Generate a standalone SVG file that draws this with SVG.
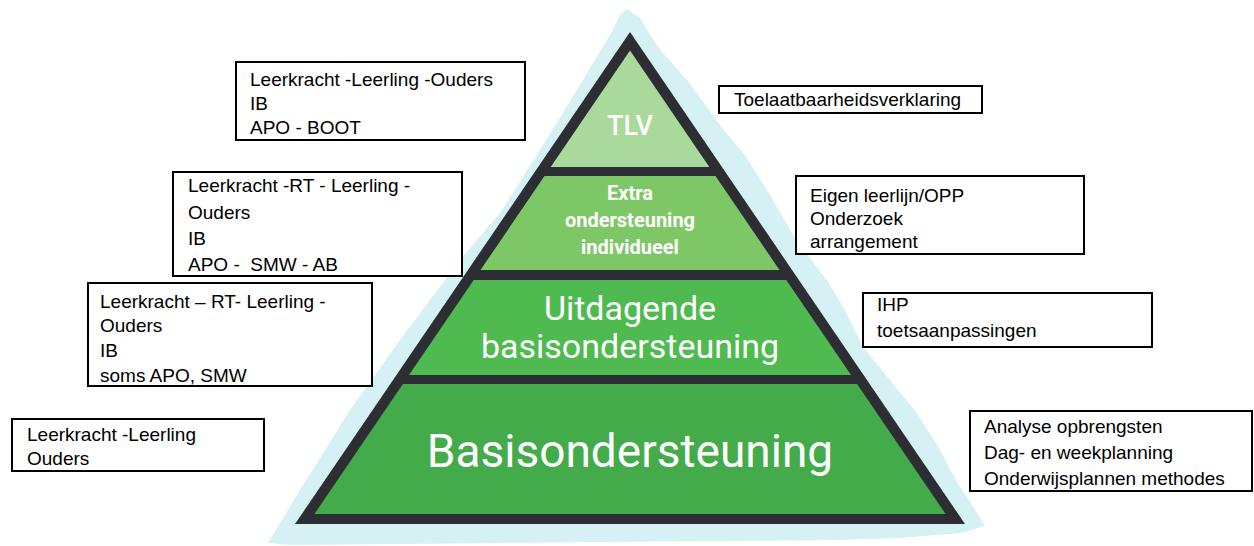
<svg xmlns="http://www.w3.org/2000/svg" width="1254" height="546" viewBox="0 0 1254 546">
<style>
.box rect{fill:#fff;stroke:#000;stroke-width:2}
.box text{font-family:"Liberation Sans",Arial,sans-serif;font-size:19px;fill:#000}
.lvl{fill:#fff;font-family:Roboto,"Liberation Sans",sans-serif;text-anchor:middle}
</style>
<rect width="1254" height="546" fill="#fff"/>
<g id="pyramid">
<polygon points="627,9 640,18 650,35 662,52 687,80 707,107 722,128 745,155 770,195 795,238 828,282 845,310 863,347 890,380 917,413 940,450 957,482 972,505 985,526 960,533 900,538 840,540 600,542 400,544 290,545 268,543 300,490 350,410 400,340 460,260 500,213 540,150 580,85 610,35 620,15" fill="#d5f1f4"/>
<polygon points="630,32 295,524 965,524" fill="#2c2e33"/>
<polygon id="tlv" points="630,50.5 550.7,167 709.3,167" fill="#a9d99b"/>
<polygon id="extra" points="544.5,176 715.5,176 779.5,270 480.5,270" fill="#7ec767"/>
<polygon id="uitdagende" points="473.7,280 786.3,280 851,375 409,375" fill="#4fba4f"/>
<polygon id="basis" points="402.9,384 857.1,384 945.6,514 314.4,514" fill="#43ab4a"/>
<text class="lvl" x="630" y="135" font-size="27" font-weight="500">TLV</text>
<text class="lvl" x="630" y="200" font-size="20" font-weight="bold">Extra</text>
<text class="lvl" x="630" y="227" font-size="20" font-weight="bold">ondersteuning</text>
<text class="lvl" x="630" y="254" font-size="20" font-weight="bold">individueel</text>
<text class="lvl" x="630" y="320" font-size="34">Uitdagende</text>
<text class="lvl" x="630" y="358" font-size="34">basisondersteuning</text>
<text class="lvl" x="630" y="467" font-size="46">Basisondersteuning</text>
</g>
<g id="box-tlv-left" class="box">
<rect x="236" y="62" width="289" height="78"/>
<text x="250" y="86">Leerkracht -Leerling -Ouders</text>
<text x="250" y="110">IB</text>
<text x="250" y="134">APO - BOOT</text>
</g>
<g id="box-extra-left" class="box">
<rect x="173" y="172" width="289" height="104"/>
<text x="188" y="192">Leerkracht -RT - Leerling -</text>
<text x="188" y="219">Ouders</text>
<text x="188" y="245">IB</text>
<text x="188" y="271" xml:space="preserve">APO -  SMW - AB</text>
</g>
<g id="box-uitdagende-left" class="box">
<rect x="88" y="283" width="284" height="103"/>
<text x="100" y="308">Leerkracht – RT- Leerling -</text>
<text x="100" y="332">Ouders</text>
<text x="100" y="357">IB</text>
<text x="100" y="382">soms APO, SMW</text>
</g>
<g id="box-basis-left" class="box">
<rect x="12" y="419" width="252" height="52"/>
<text x="27" y="441">Leerkracht -Leerling</text>
<text x="27" y="465">Ouders</text>
</g>
<g id="box-tlv-right" class="box">
<rect x="719" y="86" width="263" height="27"/>
<text x="734" y="106">Toelaatbaarheidsverklaring</text>
</g>
<g id="box-extra-right" class="box">
<rect x="796" y="176" width="288" height="78"/>
<text x="810" y="202">Eigen leerlijn/OPP</text>
<text x="810" y="225">Onderzoek</text>
<text x="810" y="248">arrangement</text>
</g>
<g id="box-uitdagende-right" class="box">
<rect x="863" y="293" width="289" height="54"/>
<text x="877" y="311">IHP</text>
<text x="877" y="337">toetsaanpassingen</text>
</g>
<g id="box-basis-right" class="box">
<rect x="970" y="411" width="282" height="80"/>
<text x="984" y="433">Analyse opbrengsten</text>
<text x="984" y="459">Dag- en weekplanning</text>
<text x="984" y="485">Onderwijsplannen methodes</text>
</g>
<g id="connectors"></g>
</svg>
